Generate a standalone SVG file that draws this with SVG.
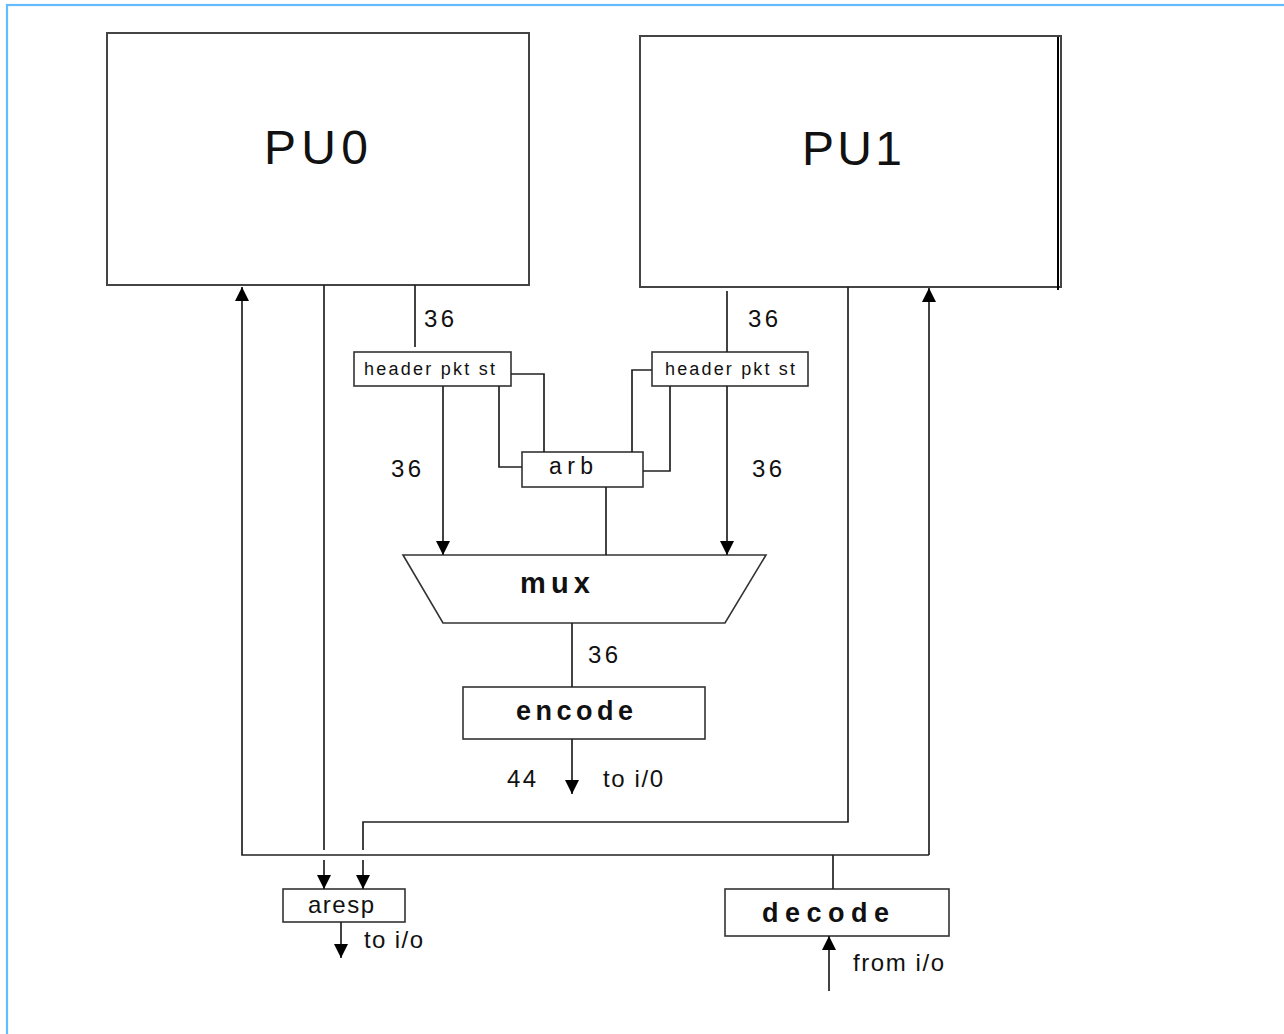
<svg xmlns="http://www.w3.org/2000/svg" width="1284" height="1034" viewBox="0 0 1284 1034">
<style>
  .box { fill: #ffffff; stroke: #333333; stroke-width: 1.6; }
  .pu { fill: #ffffff; stroke: #444444; stroke-width: 2; }
  .ln { fill: none; stroke: #222222; stroke-width: 1.7; }
  .t { font-family: "Liberation Sans", Arial, sans-serif; fill: #111111; }
  .b { font-weight: bold; }
</style>
<defs>
  <marker id="ah" markerUnits="userSpaceOnUse" markerWidth="14" markerHeight="14" refX="14" refY="7" orient="auto">
    <path d="M0,0 L14,7 L0,14 z" fill="#000000"/>
  </marker>
</defs>
<rect x="0" y="0" width="1284" height="1034" fill="#ffffff"/>
<rect x="7" y="5" width="1320" height="1100" fill="none" stroke="#66bbff" stroke-width="2.2"/>

<g id="pu0">
  <rect class="pu" x="107" y="33" width="422" height="252"/>
  <text class="t" x="264" y="164" font-size="48" textLength="104" lengthAdjust="spacing">PU0</text>
</g>
<g id="pu1">
  <rect class="pu" x="640" y="36" width="421" height="251"/>
  <line x1="1058" y1="37" x2="1058" y2="290" stroke="#000000" stroke-width="2"/>
  <text class="t" x="802" y="165" font-size="48" textLength="100" lengthAdjust="spacing">PU1</text>
</g>
<g id="hdr0">
  <rect class="box" x="354" y="352" width="157" height="34"/>
  <text class="t" x="364" y="375" font-size="18" textLength="131" lengthAdjust="spacing">header pkt st</text>
</g>
<g id="hdr1">
  <rect class="box" x="652" y="352" width="156" height="34"/>
  <text class="t" x="665" y="375" font-size="18" textLength="130" lengthAdjust="spacing">header pkt st</text>
</g>
<g id="arb">
  <rect class="box" x="522" y="452" width="121" height="35"/>
  <text class="t" x="549" y="474" font-size="23" textLength="44" lengthAdjust="spacing">arb</text>
</g>
<g id="mux">
  <path class="box" d="M403,555 L766,555 L725,623 L443,623 Z"/>
  <text class="t b" x="520" y="593" font-size="29" textLength="70" lengthAdjust="spacing">mux</text>
</g>
<g id="encode">
  <rect class="box" x="463" y="687" width="242" height="52"/>
  <text class="t b" x="516" y="720" font-size="27" textLength="117" lengthAdjust="spacing">encode</text>
</g>
<g id="aresp">
  <rect class="box" x="283" y="889" width="122" height="33"/>
  <text class="t" x="308" y="913" font-size="24" textLength="66" lengthAdjust="spacing">aresp</text>
</g>
<g id="decode">
  <rect class="box" x="725" y="889" width="224" height="47"/>
  <text class="t b" x="762" y="922" font-size="27" textLength="127" lengthAdjust="spacing">decode</text>
</g>

<g id="connectors">
  <line class="ln" x1="415" y1="285" x2="415" y2="347"/>
  <line class="ln" x1="727" y1="291" x2="727" y2="352"/>
  <polyline class="ln" points="511,374 544,374 544,452"/>
  <polyline class="ln" points="499,386 499,467 522,467"/>
  <polyline class="ln" points="652,370 632,370 632,452"/>
  <polyline class="ln" points="670,386 670,471 643,471"/>
  <line class="ln" x1="443" y1="386" x2="443" y2="555" marker-end="url(#ah)"/>
  <line class="ln" x1="727" y1="386" x2="727" y2="555" marker-end="url(#ah)"/>
  <line class="ln" x1="606" y1="487" x2="606" y2="555"/>
  <line class="ln" x1="572" y1="623" x2="572" y2="687"/>
  <line class="ln" x1="572" y1="739" x2="572" y2="794" marker-end="url(#ah)"/>
  <polyline class="ln" points="929,855 242,855 242,287" marker-end="url(#ah)"/>
  <line class="ln" x1="929" y1="855" x2="929" y2="288" marker-end="url(#ah)"/>
  <line class="ln" x1="833" y1="855" x2="833" y2="889"/>
  <line class="ln" x1="324" y1="285" x2="324" y2="850"/>
  <line class="ln" x1="324" y1="860" x2="324" y2="889" marker-end="url(#ah)"/>
  <polyline class="ln" points="848,287 848,822 363,822 363,850"/>
  <line class="ln" x1="363" y1="860" x2="363" y2="889" marker-end="url(#ah)"/>
  <line class="ln" x1="341" y1="922" x2="341" y2="958" marker-end="url(#ah)"/>
  <line class="ln" x1="829" y1="991" x2="829" y2="936" marker-end="url(#ah)"/>
</g>

<g id="labels">
  <text class="t" x="424" y="327" font-size="24" textLength="30" lengthAdjust="spacing">36</text>
  <text class="t" x="748" y="327" font-size="24" textLength="30" lengthAdjust="spacing">36</text>
  <text class="t" x="391" y="477" font-size="24" textLength="30" lengthAdjust="spacing">36</text>
  <text class="t" x="752" y="477" font-size="24" textLength="30" lengthAdjust="spacing">36</text>
  <text class="t" x="588" y="663" font-size="24" textLength="30" lengthAdjust="spacing">36</text>
  <text class="t" x="507" y="787" font-size="24" textLength="29" lengthAdjust="spacing">44</text>
  <text class="t" x="603" y="787" font-size="24" textLength="60" lengthAdjust="spacing">to i/0</text>
  <text class="t" x="364" y="948" font-size="24" textLength="59" lengthAdjust="spacing">to i/o</text>
  <text class="t" x="853" y="971" font-size="24" textLength="91" lengthAdjust="spacing">from i/o</text>
</g>
</svg>
